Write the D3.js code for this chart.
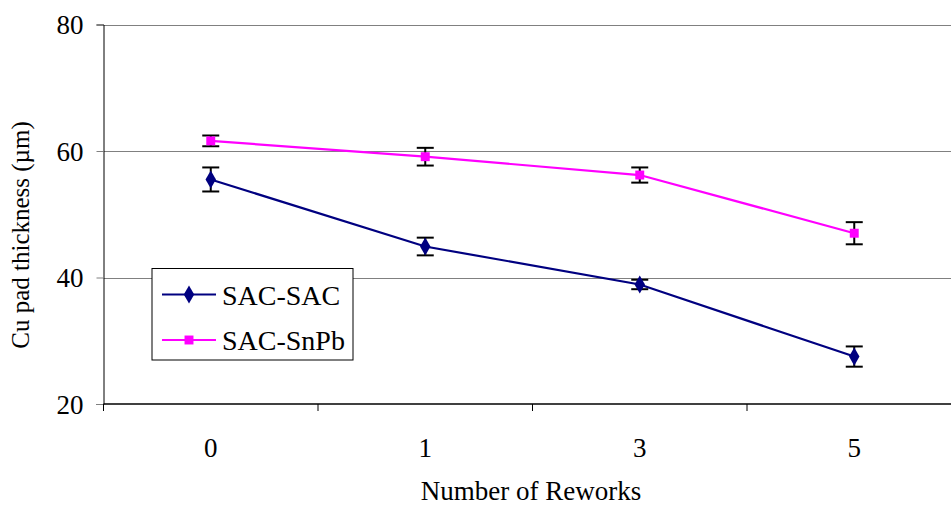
<!DOCTYPE html>
<html>
<head>
<meta charset="utf-8">
<script src="https://cdn.jsdelivr.net/npm/d3@7"></script>
<style>
  html, body { margin: 0; padding: 0; background: #fff; }
  svg { display: block; }
</style>
</head>
<body>
<svg id="chart" width="951" height="509"></svg>
<script>
// Rework count categories
const categories = ["0", "1", "3", "5"];
// Mean Cu pad thickness (µm) per series
const sacSac = [55.5, 44.9, 38.9, 27.5];
const sacSnPb = [61.6, 59.1, 56.2, 47.0];
// Error bar half-widths (µm)
const sacSacErr = [1.9, 1.4, 0.75, 1.6];
const sacSnPbErr = [0.85, 1.4, 1.2, 1.75];
const yTicks = [20, 40, 60, 80];
const seriesNames = ["SAC-SAC", "SAC-SnPb"];

const FONT = "Liberation Serif";

const svg = d3.select("#chart").attr("font-family", FONT);

const x = d3.scaleBand().domain(categories).range([103.5, 961.5]);
const y = d3.scaleLinear().domain([20, 80]).range([404, 24.5]);

const series = [
  { name: seriesNames[0], values: sacSac, err: sacSacErr, color: "#000080", shape: d3.symbolDiamond, size: 95 },
  { name: seriesNames[1], values: sacSnPb, err: sacSnPbErr, color: "#FF00FF", shape: d3.symbolSquare, size: 80 }
];

// Horizontal gridlines
svg.append("g")
  .selectAll("line")
  .data(yTicks.filter(t => t > 20))
  .join("line")
  .attr("x1", x.range()[0]).attr("x2", x.range()[1])
  .attr("y1", d => Math.round(y(d)) + 0.5).attr("y2", d => Math.round(y(d)) + 0.5)
  .attr("stroke", "#808080").attr("stroke-width", 1);

// Y axis
const yAxis = svg.append("g")
  .attr("transform", `translate(${x.range()[0]},0)`)
  .call(d3.axisLeft(y).tickValues(yTicks).tickSize(7).tickPadding(13).tickFormat(d3.format("d")));
yAxis.attr("font-family", FONT).attr("font-size", 27);
yAxis.select(".domain").attr("stroke", "#000");
yAxis.selectAll(".tick line").attr("stroke", "#808080");
yAxis.selectAll("text").attr("fill", "#000").attr("dy", "0.34em");

// X axis with ticks on category boundaries
const xAxisG = svg.append("g").attr("transform", `translate(0,${y(20)})`);
xAxisG.append("line")
  .attr("x1", x.range()[0]).attr("x2", x.range()[1])
  .attr("stroke", "#000").attr("stroke-width", 1.5);
xAxisG.selectAll(".bt")
  .data(categories)
  .join("line")
  .attr("class", "bt")
  .attr("x1", d => x(d)).attr("x2", d => x(d))
  .attr("y1", 0).attr("y2", 7)
  .attr("stroke", "#000");
xAxisG.selectAll(".lbl")
  .data(categories)
  .join("text")
  .attr("class", "lbl")
  .attr("x", d => x(d) + x.bandwidth() / 2)
  .attr("y", 53)
  .attr("text-anchor", "middle")
  .attr("font-size", 27)
  .text(d => d);

// Axis titles
svg.append("text")
  .attr("x", 531).attr("y", 500)
  .attr("text-anchor", "middle")
  .attr("font-size", 27)
  .text("Number of Reworks");

svg.append("text")
  .attr("transform", "translate(29,235) rotate(-90)")
  .attr("text-anchor", "middle")
  .attr("font-size", 25)
  .text("Cu pad thickness (µm)");

const cx = (i) => x(categories[i]) + x.bandwidth() / 2;

// Lines
const line = d3.line().x((d, i) => cx(i)).y(d => y(d));
series.forEach(s => {
  svg.append("path")
    .datum(s.values)
    .attr("fill", "none")
    .attr("stroke", s.color)
    .attr("stroke-width", 2.2)
    .attr("d", line);
});

// Error bars
series.forEach(s => {
  const g = svg.append("g");
  s.values.forEach((v, i) => {
    const x0 = cx(i), top = y(v + s.err[i]), bot = y(v - s.err[i]);
    g.append("line").attr("x1", x0).attr("x2", x0).attr("y1", top).attr("y2", bot)
      .attr("stroke", "#000").attr("stroke-width", 2);
    [top, bot].forEach(yy => {
      g.append("line").attr("x1", x0 - 8.5).attr("x2", x0 + 8.5).attr("y1", yy).attr("y2", yy)
        .attr("stroke", "#000").attr("stroke-width", 2);
    });
  });
});

// Markers
series.forEach(s => {
  svg.append("g")
    .selectAll("path")
    .data(s.values)
    .join("path")
    .attr("transform", (d, i) => `translate(${cx(i)},${y(d)})`)
    .attr("d", d3.symbol().type(s.shape).size(s.size))
    .attr("fill", s.color);
});

// Legend
const legend = svg.append("g");
legend.append("rect")
  .attr("x", 152).attr("y", 268.5).attr("width", 201).attr("height", 91.5)
  .attr("fill", "#fff").attr("stroke", "#000").attr("stroke-width", 1);
series.forEach((s, i) => {
  const ly = [294.5, 340][i];
  legend.append("line").attr("x1", 162).attr("x2", 216).attr("y1", ly).attr("y2", ly)
    .attr("stroke", s.color).attr("stroke-width", 2.2);
  legend.append("path")
    .attr("transform", `translate(189,${ly})`)
    .attr("d", d3.symbol().type(s.shape).size(s.size))
    .attr("fill", s.color);
  legend.append("text")
    .attr("x", 222).attr("y", ly + 10)
    .attr("font-size", 28)
    .text(s.name);
});
</script>
</body>
</html>
